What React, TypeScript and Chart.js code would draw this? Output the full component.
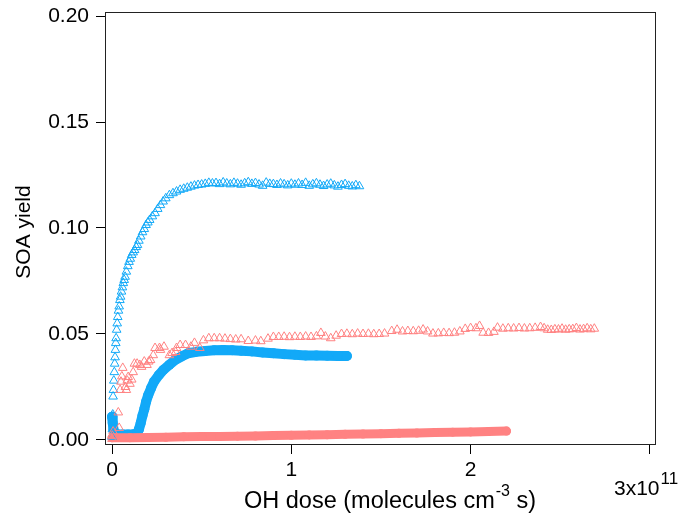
import React, { useEffect, useRef } from "react";
import { Chart, registerables } from "chart.js";

Chart.register(...registerables);

// Axis ticks (x in units of 1e11 molecules cm^-3 s)
const X_TICKS = [0, 1, 2, 3];
const X_TICK_LABELS = ["0", "1", "2", ""];
const Y_TICKS = [0, 0.05, 0.1, 0.15, 0.2];
const Y_TICK_LABELS = ["0.00", "0.05", "0.10", "0.15", "0.20"];
const X_TITLE = "OH dose (molecules cm";
const X_TITLE_SUP = "-3";
const X_TITLE_END = " s)";
const Y_TITLE = "SOA yield";
const X_EXP_BASE = "3x10";
const X_EXP_SUP = "11";

const BLUE = "#12A9F8";
const RED = "#FF8282";

// Blue open triangles
const blueTriX = [
  0.0, 0.002, 0.004, 0.006, 0.008, 0.01, 0.013, 0.015, 0.017, 0.019, 0.021, 0.023, 0.026, 0.029,
  0.032, 0.036, 0.04, 0.044, 0.048, 0.053, 0.058, 0.063, 0.068, 0.073, 0.08, 0.088, 0.095, 0.102,
  0.11, 0.118, 0.126, 0.135, 0.142, 0.15, 0.16, 0.17, 0.18, 0.19, 0.2, 0.21, 0.225, 0.24, 0.255,
  0.27, 0.285, 0.3, 0.32, 0.34, 0.36, 0.38, 0.4, 0.42, 0.44, 0.46, 0.48, 0.5, 0.52, 0.54, 0.56,
  0.58, 0.6, 0.62, 0.64, 0.66, 0.68, 0.7, 0.72, 0.74, 0.76, 0.78, 0.8, 0.82, 0.84, 0.86, 0.88,
  0.9, 0.92, 0.94, 0.96, 0.98, 1.0, 1.02, 1.04, 1.06, 1.08, 1.1, 1.12, 1.14, 1.16, 1.18, 1.2,
  1.22, 1.24, 1.26, 1.28, 1.3, 1.32, 1.34, 1.36, 1.38,
];
const blueTriY = [
  0.0015, 0.005, 0.012, 0.0205, 0.0236, 0.028, 0.032, 0.036, 0.039, 0.0425, 0.0457, 0.048, 0.052,
  0.055, 0.058, 0.061, 0.063, 0.066, 0.0676, 0.07, 0.072, 0.074, 0.0755, 0.077, 0.0794, 0.082,
  0.084, 0.0855, 0.0873, 0.0885, 0.0896, 0.091, 0.092, 0.094, 0.096, 0.098, 0.0995, 0.1014,
  0.1026, 0.1038, 0.1055, 0.107, 0.109, 0.1108, 0.1125, 0.114, 0.1155, 0.1164, 0.1172, 0.118,
  0.1185, 0.119, 0.1195, 0.12, 0.1203, 0.1205, 0.1208, 0.1213, 0.121, 0.1212, 0.1207, 0.1215,
  0.121, 0.1206, 0.1213, 0.1209, 0.1204, 0.1211, 0.1216, 0.1208, 0.1212, 0.1205, 0.1199, 0.1214,
  0.1208, 0.1207, 0.1203, 0.121, 0.1206, 0.1201, 0.1209, 0.1204, 0.121, 0.1203, 0.1213, 0.1199,
  0.1206, 0.1211, 0.1204, 0.1198, 0.1205, 0.1209, 0.1201, 0.1195, 0.1203, 0.1207, 0.1199,
  0.1196, 0.1202, 0.1197,
];

// Red open triangles
const redTriX = [
  0.0, 0.002, 0.006, 0.04, 0.035, 0.045, 0.05, 0.055, 0.06, 0.075, 0.08, 0.085, 0.09, 0.1, 0.11,
  0.118, 0.125, 0.14, 0.155, 0.165, 0.18, 0.195, 0.205, 0.215, 0.23, 0.24, 0.265, 0.27, 0.29,
  0.32, 0.335, 0.355, 0.36, 0.38, 0.41, 0.44, 0.46, 0.49, 0.51, 0.54, 0.57, 0.6, 0.63, 0.66, 0.69,
  0.72, 0.76, 0.8, 0.83, 0.87, 0.9, 0.93, 0.96, 0.99, 1.02, 1.05, 1.08, 1.11, 1.14, 1.165, 1.19,
  1.22, 1.25, 1.28, 1.31, 1.34, 1.37, 1.4, 1.43, 1.46, 1.49, 1.52, 1.56, 1.59, 1.62, 1.65, 1.68,
  1.71, 1.735, 1.76, 1.79, 1.82, 1.85, 1.88, 1.91, 1.94, 1.97, 2.0, 2.03, 2.05, 2.07, 2.1, 2.13,
  2.15, 2.18, 2.21, 2.24, 2.27, 2.3, 2.33, 2.36, 2.39, 2.41, 2.43, 2.45, 2.47, 2.49, 2.51, 2.53,
  2.55, 2.57, 2.59, 2.61, 2.63, 2.65, 2.67, 2.69,
];
const redTriY = [
  0.0005, 0.002, 0.004, 0.0057, 0.013, 0.0236, 0.0275, 0.03, 0.034, 0.025, 0.0236, 0.028, 0.0297,
  0.0265, 0.0285, 0.032, 0.036, 0.036, 0.0354, 0.0345, 0.037, 0.0354, 0.037, 0.0377, 0.04, 0.0434,
  0.0434, 0.0425, 0.044, 0.04, 0.041, 0.0415, 0.0434, 0.0448, 0.0448, 0.044, 0.0458, 0.0434,
  0.047, 0.048, 0.048, 0.048, 0.0478, 0.0476, 0.0474, 0.0475, 0.0467, 0.0469, 0.0466, 0.0478,
  0.0486, 0.0486, 0.0487, 0.0485, 0.0487, 0.0486, 0.0488, 0.0486, 0.0489, 0.0505, 0.0488, 0.048,
  0.0492, 0.05, 0.0501, 0.0499, 0.0502, 0.05, 0.0501, 0.0499, 0.05, 0.0502, 0.0514, 0.052, 0.0512,
  0.0514, 0.0513, 0.0515, 0.0521, 0.0512, 0.0502, 0.0503, 0.0505, 0.0504, 0.0506, 0.0512, 0.0524,
  0.0528, 0.0527, 0.0538, 0.0506, 0.0505, 0.051, 0.053, 0.0525, 0.0527, 0.0526, 0.0528, 0.0526,
  0.0527, 0.0529, 0.0533, 0.0527, 0.052, 0.0519, 0.0522, 0.0521, 0.0525, 0.052, 0.0522, 0.0523,
  0.0528, 0.0521, 0.0523, 0.0527, 0.0522, 0.0525,
];

// Blue filled circles
const blueDotX = [
  0.0, 0.004, 0.008, 0.015, 0.03, 0.06, 0.09, 0.12, 0.14, 0.15, 0.16, 0.17, 0.18, 0.19, 0.202,
  0.218, 0.234, 0.26, 0.286, 0.32, 0.351, 0.39, 0.425, 0.47, 0.52, 0.57, 0.62, 0.67, 0.72, 0.78,
  0.84, 0.9, 0.96, 1.02, 1.08, 1.14, 1.2, 1.26, 1.31,
];
const blueDotY = [
  0.011, 0.008, 0.005, 0.0032, 0.0027, 0.0026, 0.0026, 0.0027, 0.003, 0.005, 0.008, 0.0115,
  0.0145, 0.018, 0.0212, 0.0245, 0.0275, 0.0305, 0.033, 0.0355, 0.0377, 0.0395, 0.0409, 0.0416,
  0.042, 0.0423, 0.0424, 0.0423, 0.0421, 0.0418, 0.0413, 0.0409, 0.0405, 0.0402, 0.0399, 0.0398,
  0.0397, 0.0396, 0.0396,
];

// Red filled circles
const redDotX = [
  0.0, 0.1, 0.2, 0.3, 0.4, 0.5, 0.6, 0.7, 0.8, 0.9, 1.0, 1.1, 1.2, 1.3, 1.4, 1.5, 1.6, 1.7, 1.8,
  1.9, 2.0, 2.1, 2.2,
];
const redDotY = [
  0.0010, 0.0011, 0.0012, 0.0013, 0.0015, 0.0016, 0.0016, 0.0018, 0.0019, 0.0021, 0.0022, 0.0024,
  0.0025, 0.0027, 0.0028, 0.003, 0.0032, 0.0033, 0.0035, 0.0037, 0.0038, 0.004, 0.0042,
];

const pts = (xs: number[], ys: number[]) => xs.map((x, i) => ({ x, y: ys[i] }));

const FONT = '"Liberation Sans", Arial, Helvetica, sans-serif';

const textPlugin = {
  id: "igorText",
  afterDatasetsDraw(chart: any) {
    const { ctx, chartArea: a } = chart;
    ctx.save();
    ctx.strokeStyle = "#222";
    ctx.lineWidth = 1;
    ctx.strokeRect(a.left - 0.5, a.top + 0.5, a.right - a.left, a.bottom - a.top);
    ctx.restore();
  },
  afterDraw(chart: any) {
    const { ctx } = chart;
    ctx.save();
    ctx.fillStyle = "#000";
    ctx.textBaseline = "alphabetic";
    // x title
    ctx.font = `23.5px ${FONT}`;
    ctx.textAlign = "left";
    let x = 244;
    const yb = 508;
    ctx.fillText(X_TITLE, x, yb);
    x += ctx.measureText(X_TITLE).width + 1;
    ctx.font = `16px ${FONT}`;
    ctx.fillText(X_TITLE_SUP, x, yb - 12);
    x += ctx.measureText(X_TITLE_SUP).width;
    ctx.font = `23.5px ${FONT}`;
    ctx.fillText(X_TITLE_END, x, yb);
    // exponent label
    ctx.font = `21px ${FONT}`;
    let ex = 614;
    ctx.fillText(X_EXP_BASE, ex, 495);
    ex += ctx.measureText(X_EXP_BASE).width + 1;
    ctx.font = `17px ${FONT}`;
    ctx.fillText(X_EXP_SUP, ex, 484);
    // y title
    ctx.translate(30, 232);
    ctx.rotate(-Math.PI / 2);
    ctx.font = `21px ${FONT}`;
    ctx.textAlign = "center";
    ctx.fillText(Y_TITLE, 0, 0);
    ctx.restore();
  },
};

export default function App() {
  const ref = useRef<HTMLCanvasElement>(null);
  useEffect(() => {
    document.body.style.margin = "0";
    const canvas = ref.current!;
    const tri = (data: any[], color: string, order: number) => ({
      type: "scatter",
      data,
      order,
      showLine: false,
      pointStyle: "triangle",
      pointRadius: 5,
      pointBorderWidth: 1,
      pointBorderColor: color,
      pointBackgroundColor: "rgba(0,0,0,0)",
      borderColor: color,
      backgroundColor: "rgba(0,0,0,0)",
    });
    const dots = (data: any[], color: string, w: number, order: number) => ({
      type: "line",
      data,
      order,
      showLine: true,
      borderColor: color,
      backgroundColor: color,
      borderWidth: w,
      borderCapStyle: "round",
      borderJoinStyle: "round",
      pointRadius: w / 2,
      pointBorderWidth: 0,
      pointBackgroundColor: color,
      tension: 0,
      fill: false,
    });
    const chart = new Chart(canvas, {
      type: "scatter",
      data: {
        datasets: [
          tri(pts(redTriX, redTriY), RED, 1),
          tri(pts(blueTriX, blueTriY), BLUE, 2),
          dots(pts(redDotX, redDotY), RED, 9, 3),
          dots(pts(blueDotX, blueDotY), BLUE, 10, 4),
        ] as any,
      },
      options: {
        animation: false,
        responsive: false,
        events: [],
        layout: { padding: { left: 0, top: 12, right: 32, bottom: 0 } },
        plugins: { legend: { display: false }, tooltip: { enabled: false } },
        scales: {
          x: {
            type: "linear",
            min: -0.0335,
            max: 3.034,
            afterFit: (s: any) => {
              s.height = 75;
              s.paddingLeft = 0;
              s.paddingRight = 0;
            },
            afterBuildTicks: (s: any) => {
              s.ticks = X_TICKS.map((v) => ({ value: v }));
            },
            border: { display: false },
            grid: {
              display: true,
              drawOnChartArea: false,
              drawTicks: true,
              tickLength: 10,
              color: "#000",
              tickColor: "#000",
            },
            ticks: {
              color: "#000",
              padding: 4,
              maxRotation: 0,
              autoSkip: false,
              font: { family: FONT, size: 21 },
              callback: (v: any) => X_TICK_LABELS[X_TICKS.indexOf(Number(v))] ?? "",
            },
          },
          y: {
            type: "linear",
            min: -0.00189,
            max: 0.20189,
            afterFit: (s: any) => {
              s.width = 106;
              s.paddingTop = 0;
              s.paddingBottom = 0;
            },
            afterBuildTicks: (s: any) => {
              s.ticks = Y_TICKS.map((v) => ({ value: v }));
            },
            border: { display: false },
            grid: {
              display: true,
              drawOnChartArea: false,
              drawTicks: true,
              tickLength: 10,
              color: "#000",
              tickColor: "#000",
            },
            ticks: {
              color: "#000",
              padding: 7,
              autoSkip: false,
              font: { family: FONT, size: 21 },
              callback: (v: any) => {
                const i = Y_TICKS.findIndex((t) => Math.abs(t - Number(v)) < 1e-9);
                return i >= 0 ? Y_TICK_LABELS[i] : "";
              },
            },
          },
        },
      },
      plugins: [textPlugin],
    } as any);
    return () => chart.destroy();
  }, []);
  return (
    <div style={{ width: 688, height: 519 }}>
      <canvas ref={ref} width={688} height={519} />
    </div>
  );
}
